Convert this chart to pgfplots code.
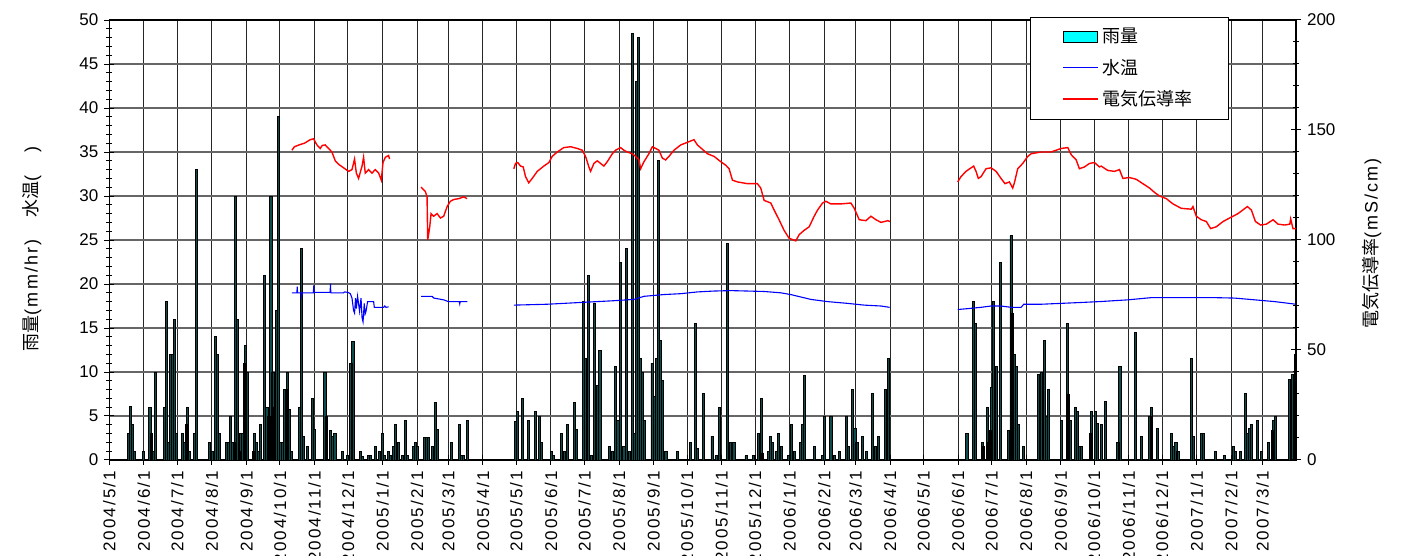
\documentclass[border=0pt]{standalone}
\usepackage{pgfplots}
\usepackage{pgfplotstable}
\pgfplotsset{compat=1.18}
\usepackage{fontspec}
\setmainfont{Liberation Sans}
\newfontfamily\jp{Noto Sans CJK JP}
\newfontfamily\lsf[LetterSpace=12]{Liberation Sans}
\definecolor{rainfill}{RGB}{15,75,75}
\definecolor{aqua}{RGB}{0,255,255}

\pgfplotstableread{
d v
17.4 3.0
19.2 6.1
20.4 4.0
22.8 1.0
30.5 1.0
36.5 6.0
37.7 3.0
39.5 1.0
41.3 10.0
49.1 6.0
51.5 18.0
53.3 2.0
55.1 12.0
56.3 12.0
58.1 16.0
59.9 3.0
65.3 3.0
67.1 2.0
68.9 4.0
70.0 6.0
71.8 1.0
76.6 3.0
77.8 33.0
90.1 2.0
92.2 1.0
95.2 14.0
96.9 12.0
98.7 3.0
105.4 2.0
106.6 2.0
108.3 5.0
110.1 2.0
111.9 2.0
113.1 30.0
114.9 16.0
116.7 1.0
117.9 3.0
119.7 3.0
120.9 11.0
122.1 13.0
123.9 10.0
129.3 1.0
130.5 3.0
132.3 2.0
134.1 1.0
135.9 4.0
139.5 21.0
141.3 6.0
143.1 5.0
144.9 30.0
146.7 10.0
147.8 6.0
149.6 17.0
151.4 39.0
153.2 2.0
155.0 2.0
156.8 8.0
158.6 8.0
159.8 10.0
161.6 5.7
163.4 1.0
170.6 6.0
172.4 24.0
174.2 2.7
177.7 1.5
182.0 7.0
183.8 3.5
193.4 10.0
194.5 5.0
198.1 3.4
199.9 2.7
202.3 3.0
208.9 1.0
213.6 0.5
216.7 11.0
218.5 13.5
225.0 1.0
226.8 0.4
232.2 0.5
234.0 0.5
238.8 1.5
242.4 1.0
244.8 3.0
246.6 0.5
250.2 1.0
252.0 0.5
255.0 1.5
256.7 4.0
259.2 2.0
262.7 0.5
265.7 4.5
267.0 0.5
272.4 1.5
274.7 2.0
276.5 1.5
282.5 2.6
284.3 2.6
286.1 2.6
289.7 1.5
292.1 6.5
293.9 3.5
306.5 2.0
314.2 4.0
316.0 0.5
317.8 0.5
320.8 4.5
364.5 4.4
365.7 5.5
370.5 7.0
375.9 4.5
381.9 5.5
386.0 5.0
387.8 2.0
396.8 1.0
398.6 0.5
405.7 3.0
408.2 1.0
411.1 4.0
417.1 6.5
418.9 3.5
425.0 18.0
427.3 11.5
429.7 21.0
432.1 0.5
435.1 17.8
437.5 8.5
439.9 12.5
448.8 1.5
451.3 1.0
453.7 10.6
456.0 4.5
458.4 22.5
461.4 1.5
463.8 24.0
466.2 1.0
469.2 48.5
471.0 3.0
472.8 43.0
474.6 48.0
476.4 11.5
478.2 10.0
480.0 4.5
486.6 11.0
489.0 7.2
490.8 11.5
492.5 34.0
494.3 13.6
496.1 9.0
499.1 1.0
509.3 1.0
521.3 2.0
525.5 15.5
527.3 1.3
532.7 7.6
540.4 2.7
544.0 0.5
547.0 6.0
554.2 24.6
557.2 2.0
560.1 2.0
570.9 0.5
577.6 0.5
581.7 3.0
584.7 7.0
586.0 0.8
590.7 1.0
593.1 2.7
594.9 2.0
597.8 1.0
600.3 3.0
602.7 1.5
608.6 0.5
611.7 4.0
614.0 1.0
619.4 2.0
621.8 4.0
623.6 9.6
632.0 1.5
639.2 0.5
641.0 5.0
647.0 5.0
650.0 0.5
654.8 1.0
661.3 5.0
663.0 1.5
666.1 8.0
668.5 3.6
670.3 2.0
675.1 2.7
678.7 1.0
684.6 7.6
687.0 1.5
690.0 2.7
696.0 8.0
698.4 11.5
769.0 3.0
775.0 18.0
776.9 15.5
782.8 2.0
784.0 1.5
787.0 6.0
788.5 2.0
789.9 3.4
791.2 8.3
793.0 18.0
795.3 10.6
798.9 22.5
806.1 3.4
808.5 25.5
809.7 16.7
811.5 12.0
813.3 10.6
815.1 4.0
819.3 1.5
833.0 9.7
835.4 10.0
838.4 13.6
840.2 5.0
842.0 8.0
853.4 4.5
858.8 15.5
860.0 7.4
861.8 4.5
866.0 6.0
867.8 5.5
869.6 1.5
871.4 1.5
879.4 3.0
880.6 5.5
884.2 5.5
886.0 4.2
889.3 4.0
893.5 6.6
904.3 2.0
906.1 10.6
920.0 14.5
925.4 2.7
933.0 5.0
934.2 6.0
939.6 3.6
952.2 3.0
954.0 1.5
956.4 2.0
958.2 1.0
970.0 11.5
972.4 2.7
979.5 3.0
981.4 3.0
991.7 1.0
1000.0 0.5
1007.8 1.5
1009.6 1.0
1014.4 1.0
1018.6 7.6
1020.4 3.0
1022.2 3.6
1024.0 4.0
1029.4 4.5
1033.0 1.0
1039.0 2.0
1042.6 3.4
1044.0 4.5
1045.5 5.0
1058.1 9.2
1061.1 9.7
1063.5 12.0
}\rain

\pgfplotstableread{
d v
163.7 19.0
168.2 19.0
168.5 19.7
168.8 19.0
172.0 19.0
172.5 18.6
173.0 19.0
183.0 19.0
183.3 19.85
183.6 19.05
198.0 19.05
198.3 20.05
198.6 19.0
210.0 19.0
211.0 19.1
214.0 19.05
216.1 18.9
217.6 18.4
219.0 17.0
219.9 16.7
220.8 18.4
221.5 17.2
222.6 18.6
224.4 16.9
225.7 18.4
226.6 16.2
227.5 15.7
228.6 17.8
229.4 16.6
230.2 16.9
231.6 18.0
237.0 18.0
237.6 17.35
246.0 17.35
247.0 17.5
248.0 17.35
250.4 17.4
}\tempA

\pgfplotstableread{
d v
279.5 18.6
289.4 18.6
291.0 18.4
299.8 18.2
304.0 18.0
313.8 18.0
314.2 17.75
314.6 18.0
321.0 18.0
}\tempB

\pgfplotstableread{
d v
362.7 17.6
392.6 17.7
422.5 17.9
452.4 18.1
470.4 18.25
479.4 18.6
497.3 18.8
512.3 18.9
527.3 19.1
542.2 19.2
557.2 19.25
572.2 19.2
587.1 19.15
602.0 19.0
611.0 18.8
629.0 18.25
643.9 18.0
661.9 17.8
676.8 17.6
691.9 17.5
699.6 17.35
}\tempC

\pgfplotstableread{
d v
760.7 17.1
769.6 17.2
781.6 17.35
790.6 17.5
799.5 17.5
808.5 17.35
817.5 17.35
819.9 17.7
835.5 17.7
853.4 17.8
871.4 17.9
887.8 18.0
913.3 18.2
934.2 18.45
949.2 18.45
973.1 18.45
991.0 18.45
1009.0 18.4
1027.0 18.2
1044.9 18.0
1064.0 17.7
}\tempD

\pgfplotstableread{
d c
163.7 140.8
166.0 142.4
170.0 143.2
175.0 144.0
180.2 145.6
183.1 146.0
186.2 143.2
189.1 141.6
191.0 143.0
193.6 143.2
196.6 141.6
199.6 140.0
202.6 136.0
205.6 134.4
210.1 132.8
214.5 131.2
217.6 132.0
219.9 136.8
221.5 130.4
223.5 128.0
226.6 133.6
228.0 137.6
229.5 130.4
232.5 132.0
235.5 130.4
238.5 132.0
241.5 130.4
243.9 127.2
245.4 135.2
247.5 137.6
250.4 138.4
251.3 136.8
}\condA

\pgfplotstableread{
d c
279.5 124.0
283.4 122.0
284.9 119.6
285.5 100.0
287.3 106.0
288.5 112.0
290.8 110.8
293.9 112.0
296.9 110.0
299.8 110.8
302.9 115.2
305.8 117.6
308.8 118.4
313.3 118.8
317.8 119.6
320.8 118.8
}\condB

\pgfplotstableread{
d c
362.7 132.4
364.2 134.8
366.2 135.2
368.7 133.6
371.1 133.2
373.2 128.8
376.1 126.0
379.2 128.0
383.7 131.2
389.6 133.6
394.1 135.2
397.1 138.0
401.6 140.0
407.5 142.0
413.6 142.4
419.6 141.6
424.1 140.8
427.0 138.0
430.0 133.2
431.5 131.2
434.5 134.8
437.5 136.0
440.5 134.8
443.4 133.6
446.5 135.6
451.0 139.2
453.9 140.8
458.4 142.0
461.4 140.8
464.5 140.0
468.9 139.2
471.9 138.0
474.9 136.4
476.4 132.4
479.4 135.6
483.8 139.2
486.9 142.4
489.9 141.6
492.8 140.8
495.9 137.2
498.8 136.4
501.8 138.0
506.3 140.8
512.3 143.2
518.3 144.4
524.2 145.6
527.3 143.2
531.8 141.2
536.3 139.2
542.2 138.0
548.2 135.6
552.7 134.0
555.7 132.4
558.7 127.2
563.2 126.4
572.2 125.6
581.1 125.6
584.1 123.6
587.1 118.0
593.1 116.8
596.1 113.6
600.5 109.2
605.0 104.4
609.5 100.8
615.5 99.6
618.5 102.4
623.0 104.4
627.5 106.0
632.0 110.8
635.0 113.6
639.5 116.8
642.5 117.6
646.9 116.4
655.9 116.4
664.9 116.8
667.9 114.4
672.4 109.2
678.4 108.8
682.9 110.8
687.4 109.2
691.9 108.0
695.0 108.4
698.0 108.8
700.0 108.4
}\condC

\pgfplotstableread{
d c
760.7 126.4
763.6 128.8
768.1 131.2
772.6 132.8
775.0 133.6
777.1 131.2
779.2 128.0
781.6 128.8
786.1 132.4
790.6 132.8
795.1 131.2
799.5 128.0
803.1 125.6
807.0 126.4
810.0 123.6
811.5 126.0
814.5 132.4
819.0 134.8
823.5 138.0
826.5 139.2
835.5 140.0
844.4 140.0
853.4 141.6
859.4 142.0
862.4 138.8
866.9 136.4
869.8 132.4
874.3 133.2
878.8 134.8
883.3 135.2
887.8 133.2
889.3 133.6
895.3 131.6
901.3 131.2
905.7 132.0
908.8 128.0
914.7 128.4
920.7 127.6
926.7 125.6
932.7 123.6
937.2 121.6
941.6 120.0
947.7 118.8
953.7 116.4
961.1 114.4
970.1 114.0
971.6 115.2
974.6 110.8
979.1 109.2
983.6 108.4
987.4 105.2
992.5 106.0
998.6 108.4
1004.5 110.0
1012.0 112.0
1020.4 115.2
1024.0 113.6
1027.6 108.4
1032.3 106.8
1037.4 107.2
1043.4 109.2
1047.9 107.2
1053.9 106.8
1058.4 107.2
1059.2 109.6
1061.3 105.2
1064.0 105.2
}\condD

\begin{document}
\begin{tikzpicture}
\fontsize{8.5}{10}\selectfont
\begin{axis}[
  scale only axis, width=593.35pt, height=220pt,
  at={(0,0)}, anchor=south west,
  xmin=0, xmax=1064, ymin=0, ymax=50,
  xtick={0,31,61,92,123,153,184,214,245,276,304,335,365,396,426,457,488,518,549,579,610,641,669,700,730,761,791,822,853,883,914,944,975,1006,1034},
  xticklabels={2004/5/1,2004/6/1,2004/7/1,2004/8/1,2004/9/1,2004/10/1,2004/11/1,2004/12/1,2005/1/1,2005/2/1,2005/3/1,2005/4/1,2005/5/1,2005/6/1,2005/7/1,2005/8/1,2005/9/1,2005/10/1,2005/11/1,2005/12/1,2006/1/1,2006/2/1,2006/3/1,2006/4/1,2006/5/1,2006/6/1,2006/7/1,2006/8/1,2006/9/1,2006/10/1,2006/11/1,2006/12/1,2007/1/1,2007/2/1,2007/3/1},
  xticklabel style={rotate=90, anchor=east, font=\lsf\fontsize{8.5}{10}\selectfont},
  ytick={0,5,...,50}, minor y tick num=4,
  xtick pos=left, ytick pos=left,
  tick align=center, major tick length=5pt, minor tick length=3pt,
  tick style={black, line width=0.5pt},
  /pgf/number format/assume math mode=true,
  yticklabel style={font=\fontsize{8.5}{10}\selectfont},
  xmajorgrids, ymajorgrids,
  x grid style={black!85, line width=0.5pt},
  y grid style={black!60, line width=0.8pt},
  axis line style={black, line width=0.6pt},
  ylabel={{\jp 雨量}{\lsf (mm/hr)}\hspace{1.2em}{\jp 水温}{\lsf (\hspace{1.3em})}},
  ylabel style={at={(axis description cs:-0.0651,0.48)}, anchor=center, font=\fontsize{9}{10}\selectfont},
]
\addplot[ybar, bar width=1.9, bar shift=0pt, fill=rainfill, draw=black, line width=0.45pt] table[x=d,y=v]{\rain};
\addplot[blue, line width=0.55pt, mark=none] table[x=d,y=v]{\tempA};
\addplot[blue, line width=0.55pt, mark=none] table[x=d,y=v]{\tempB};
\addplot[blue, line width=0.55pt, mark=none] table[x=d,y=v]{\tempC};
\addplot[blue, line width=0.55pt, mark=none] table[x=d,y=v]{\tempD};
\end{axis}
\begin{axis}[
  scale only axis, width=593.35pt, height=220pt,
  at={(0,0)}, anchor=south west,
  xmin=0, xmax=1064, ymin=0, ymax=200,
  axis x line=none, axis y line*=right,
  ytick={0,50,...,200}, minor y tick num=4,
  tick align=center, major tick length=5pt, minor tick length=3pt,
  tick style={black, line width=0.5pt},
  axis line style={black, line width=0.6pt},
  /pgf/number format/assume math mode=true,
  yticklabel style={font=\fontsize{8.5}{10}\selectfont},
  ylabel={{\jp 電気伝導率}{\lsf (mS/cm)}},
  ylabel style={at={(axis description cs:1.064,0.492)}, anchor=center, font=\fontsize{9}{10}\selectfont},
  legend cell align=left,
  legend style={at={(axis description cs:0.776,1.007)}, anchor=north west, draw=black, line width=0.5pt, fill=white, font=\jp\fontsize{9}{10}\selectfont, inner xsep=16pt, inner ysep=3.5pt, row sep=2.8pt},
]
\addlegendimage{area legend, fill=aqua, draw=black, line width=0.5pt}
\addlegendentry{雨量}
\addlegendimage{blue, line width=0.5pt}
\addlegendentry{水温}
\addplot[red, line width=0.7pt, mark=none] table[x=d,y=c]{\condA};
\addlegendentry{電気伝導率}
\addplot[red, line width=0.7pt, mark=none, forget plot] table[x=d,y=c]{\condB};
\addplot[red, line width=0.7pt, mark=none, forget plot] table[x=d,y=c]{\condC};
\addplot[red, line width=0.7pt, mark=none, forget plot] table[x=d,y=c]{\condD};
\end{axis}
\pgfresetboundingbox
\path[use as bounding box] (-54.65pt,-48pt) rectangle (655.35pt,230pt);
\end{tikzpicture}
\end{document}
